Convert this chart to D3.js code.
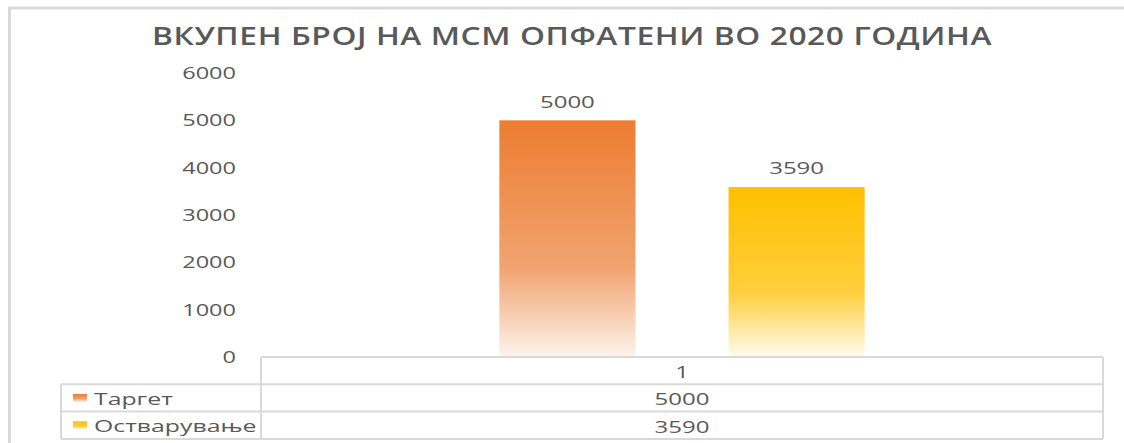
<!DOCTYPE html>
<html>
<head>
<meta charset="utf-8">
<script src="https://cdn.jsdelivr.net/npm/d3@7"></script>
<style>
  body { margin: 0; background: #fff; }
  text { font-family: "Open Sans", sans-serif; fill: #595959; }
</style>
</head>
<body>
<svg id="chart" width="1124" height="443"></svg>
<script>
// données du graphique
const title = "ВКУПЕН БРОЈ НА МСМ ОПФАТЕНИ ВО 2020 ГОДИНА";
const categories = ["1"];
const seriesNames = ["Таргет", "Остварување"];
const seriesValues = [[5000], [3590]];
const seriesColors = [["#ED7D31", "#F1A36F", "#FDF3EC"], ["#FFC000", "#FFCF3C", "#FFFBEF"]];
const yTicks = [0, 1000, 2000, 3000, 4000, 5000, 6000];

const SX = 1.5; // le texte de l'image est étiré horizontalement
const svg = d3.select("#chart");

// cadre extérieur
svg.append("path")
    .attr("d", "M9.5,443 L9.5,8 L1124,8")
    .style("fill", "none")
    .style("stroke", "#d9d9d9")
    .style("stroke-width", 3);

// dégradés
const defs = svg.append("defs");
seriesColors.forEach(function(c, i) {
    let g = defs.append("linearGradient")
        .attr("id", "grad" + i)
        .attr("x1", 0).attr("y1", 0).attr("x2", 0).attr("y2", 1);
    g.append("stop").attr("offset", "0%").attr("stop-color", c[0]);
    g.append("stop").attr("offset", "62%").attr("stop-color", c[1]);
    g.append("stop").attr("offset", "100%").attr("stop-color", c[2]);
});

function addText(parent, x, y, str, size, anchor, sx) {
    return parent.append("text")
        .attr("transform", "translate(" + x + "," + y + ") scale(" + (sx || SX) + ",1)")
        .attr("text-anchor", anchor || "middle")
        .attr("dominant-baseline", "central")
        .style("font-size", size + "px")
        .text(str);
}

// titre
svg.append("text")
    .attr("x", 152).attr("y", 35)
    .attr("dominant-baseline", "central")
    .attr("textLength", 840)
    .attr("lengthAdjust", "spacingAndGlyphs")
    .style("font-size", "26px")
    .style("font-weight", 600)
    .style("letter-spacing", "0.5px")
    .text(title);

// échelles
const plotLeft = 261, plotRight = 1103;
const y = d3.scaleLinear().domain([0, 6000]).range([357, 73]);
const x0 = d3.scaleBand().domain(categories).range([plotLeft, plotRight]);
const x1 = d3.scaleBand().domain(seriesNames).range([0, x0.bandwidth()])
    .paddingInner(0.406).paddingOuter(1.04);

// axe Y (étiquettes seulement)
const yAxis = svg.append("g");
yTicks.forEach(function(t) {
    addText(yAxis, 236, y(t), t, 16, "end", 1.47);
});

// barres
categories.forEach(function(cat, ci) {
    seriesNames.forEach(function(name, si) {
        let v = seriesValues[si][ci];
        let bx = x0(cat) + x1(name);
        svg.append("rect")
            .attr("x", bx)
            .attr("y", y(v))
            .attr("width", x1.bandwidth())
            .attr("height", y(0) - y(v))
            .style("fill", "url(#grad" + si + ")");
        addText(svg, bx + x1.bandwidth() / 2, y(v) - 19, v, 16);
    });
});

// tableau de données
const rowH = 27.3;
const tableTop = 357;
const legendLeft = 61;
const lineColor = "#d9d9d9";
const table = svg.append("g");

function hline(x1p, x2p, yp) {
    table.append("line")
        .attr("x1", x1p).attr("x2", x2p).attr("y1", yp).attr("y2", yp)
        .style("stroke", lineColor).style("stroke-width", 2);
}
function vline(xp, y1p, y2p) {
    table.append("line")
        .attr("x1", xp).attr("x2", xp).attr("y1", y1p).attr("y2", y2p)
        .style("stroke", lineColor).style("stroke-width", 2);
}

hline(plotLeft, plotRight, tableTop);
for (let r = 1; r <= seriesNames.length + 1; r++) {
    hline(legendLeft, plotRight, tableTop + r * rowH);
}
vline(legendLeft, tableTop + rowH, tableTop + (seriesNames.length + 1) * rowH);
vline(plotLeft, tableTop, tableTop + (seriesNames.length + 1) * rowH);
vline(plotRight, tableTop, tableTop + (seriesNames.length + 1) * rowH);

categories.forEach(function(cat) {
    addText(table, x0(cat) + x0.bandwidth() / 2, tableTop + rowH / 2 + 1, cat, 16);
    seriesNames.forEach(function(name, si) {
        let cy = tableTop + (si + 1.5) * rowH + 1;
        addText(table, x0(cat) + x0.bandwidth() / 2, cy, seriesValues[si][categories.indexOf(cat)], 16);
    });
});

seriesNames.forEach(function(name, si) {
    let cy = tableTop + (si + 1.5) * rowH;
    table.append("rect")
        .attr("x", 73).attr("y", cy - 4)
        .attr("width", 14).attr("height", 8)
        .style("fill", "url(#grad" + si + ")");
    addText(table, 94, cy + 1, name, 16, "start", 1.55);
});
</script>
</body>
</html>
